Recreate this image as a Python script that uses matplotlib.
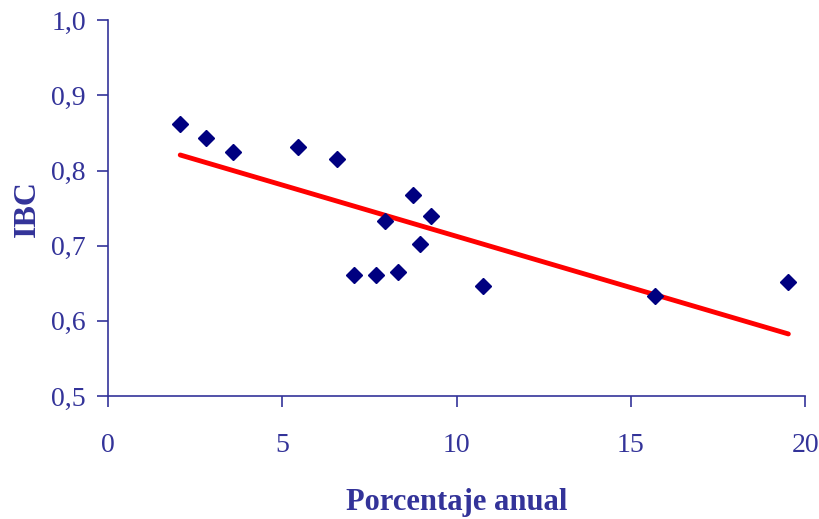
import numpy as np
import matplotlib
matplotlib.use("Agg")
import matplotlib.pyplot as plt
from matplotlib.ticker import FuncFormatter

# Data
porcentaje = [2.07, 2.81, 3.57, 5.44, 6.57, 8.76, 7.95, 9.26, 8.95, 7.07, 7.70, 8.31, 10.76, 15.70, 19.52]
ibc = [0.862, 0.843, 0.825, 0.831, 0.815, 0.768, 0.733, 0.739, 0.702, 0.661, 0.661, 0.665, 0.646, 0.633, 0.652]

x_ticks = [0, 5, 10, 15, 20]
y_ticks = [0.5, 0.6, 0.7, 0.8, 0.9, 1.0]

text_color = '#333399'
plt.rcParams['font.family'] = ['Liberation Serif', 'DejaVu Serif']

fig = plt.figure(figsize=(8.19, 5.19), dpi=100)
ax = fig.add_axes([0.132, 0.237, 0.851, 0.724])

# linear trend line (least squares), drawn between the extreme x values
coef = np.polyfit(porcentaje, ibc, 1)
trend_x = np.array([min(porcentaje), max(porcentaje)])
ax.plot(trend_x, np.polyval(coef, trend_x), color='red', linewidth=3.5,
        solid_capstyle='round', zorder=2)

ax.plot(porcentaje, ibc, linestyle='none', marker='D', markersize=8.5,
        color='#000080', zorder=3)

ax.set_xlim(0, 20)
ax.set_ylim(0.5, 1.0)
ax.set_xticks(x_ticks)
ax.set_yticks(y_ticks)
ax.yaxis.set_major_formatter(FuncFormatter(lambda v, p: f"{v:.1f}".replace('.', ',')))

for side in ['top', 'right']:
    ax.spines[side].set_visible(False)
for side in ['left', 'bottom']:
    ax.spines[side].set_color(text_color)
    ax.spines[side].set_linewidth(1.2)

ax.tick_params(axis='both', colors=text_color, labelsize=20, length=8, width=1.2)
ax.tick_params(axis='y', pad=8)
ax.tick_params(axis='x', pad=19)

ax.set_xlabel('Porcentaje anual', fontsize=22, fontweight='bold', color=text_color, labelpad=21)
ax.set_ylabel('IBC', fontsize=23, fontweight='bold', color=text_color, labelpad=7)

fig.savefig('out.png', dpi=100)
